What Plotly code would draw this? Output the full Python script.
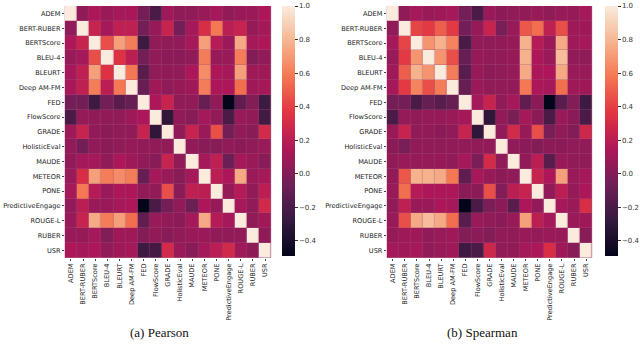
import plotly.graph_objects as go

metrics = ["ADEM", "BERT-RUBER", "BERTScore", "BLEU-4", "BLEURT", "Deep AM-FM", "FED",
           "FlowScore", "GRADE", "HolisticEval", "MAUDE", "METEOR", "PONE",
           "PredictiveEngage", "ROUGE-L", "RUBER", "USR"]

# upper-triangle rows (values for columns i+1 .. end)
pearson_upper = [
    [0.05, 0.15, 0.08, 0.12, 0.13, -0.05, -0.20, 0.10, 0.05, 0.05, 0.08, 0.12, 0.05, 0.08, 0.08, 0.15],
    [0.25, 0.12, 0.22, 0.22, -0.05, 0.07, 0.25, -0.05, 0.12, 0.32, 0.58, 0.20, 0.25, 0.07, 0.12],
    [0.45, 0.72, 0.60, -0.25, 0.05, 0.05, 0.05, 0.12, 0.72, 0.18, 0.08, 0.75, 0.12, 0.15],
    [0.35, 0.20, -0.05, 0.05, 0.03, 0.03, 0.05, 0.60, 0.08, 0.08, 0.60, 0.00, 0.05],
    [0.58, -0.15, 0.05, 0.05, 0.05, 0.15, 0.65, 0.15, 0.12, 0.72, 0.10, 0.10],
    [-0.10, 0.10, 0.05, 0.07, 0.10, 0.60, 0.15, 0.15, 0.55, 0.10, 0.12],
    [0.15, 0.25, 0.05, 0.05, -0.10, 0.05, -0.49, -0.12, 0.00, -0.25],
    [-0.30, 0.05, 0.02, 0.12, 0.05, -0.20, 0.08, 0.05, -0.23],
    [0.05, 0.25, 0.08, 0.45, -0.05, 0.05, 0.02, 0.30],
    [0.05, 0.02, 0.02, 0.05, 0.03, 0.05, 0.08],
    [0.12, 0.22, -0.08, 0.12, 0.08, 0.02],
    [0.20, 0.15, 0.75, 0.08, 0.12],
    [0.07, 0.18, 0.05, 0.20],
    [0.12, 0.05, 0.29],
    [0.05, 0.10],
    [0.04],
    [],
]

spearman_upper = [
    [0.05, 0.12, 0.08, 0.10, 0.12, -0.05, -0.20, 0.08, 0.03, 0.05, 0.05, 0.08, 0.05, 0.08, 0.07, 0.12],
    [0.42, 0.38, 0.50, 0.38, -0.05, 0.07, 0.25, -0.03, 0.08, 0.48, 0.55, 0.22, 0.45, 0.10, 0.10],
    [0.68, 0.78, 0.62, -0.20, 0.05, 0.05, 0.05, 0.07, 0.78, 0.18, 0.08, 0.75, 0.10, 0.12],
    [0.68, 0.45, -0.10, 0.07, 0.05, 0.05, 0.07, 0.78, 0.15, 0.08, 0.82, 0.05, 0.05],
    [0.60, -0.15, 0.07, 0.03, 0.05, 0.07, 0.75, 0.15, 0.15, 0.75, 0.08, 0.08],
    [-0.10, 0.08, 0.05, 0.05, 0.05, 0.58, 0.15, 0.12, 0.55, 0.10, 0.10],
    [0.12, 0.25, 0.05, 0.12, -0.12, 0.03, -0.49, -0.15, 0.00, -0.25],
    [-0.30, 0.05, -0.03, 0.12, 0.03, -0.20, 0.08, 0.03, -0.20],
    [0.05, 0.30, 0.07, 0.45, -0.03, 0.05, 0.00, 0.28],
    [0.05, 0.03, 0.00, 0.03, 0.03, 0.05, 0.05],
    [0.05, 0.20, -0.15, 0.08, 0.05, 0.05],
    [0.25, 0.15, 0.72, 0.08, 0.12],
    [0.05, 0.20, 0.07, 0.15],
    [0.12, 0.08, 0.32],
    [0.08, 0.10],
    [0.02],
    [],
]

captions = ["(a) Pearson", "(b) Spearman"]
caption_x = [160, 484]
cbar_ticks = [-0.4, -0.2, 0.0, 0.2, 0.4, 0.6, 0.8, 1.0]


def full_matrix(upper):
    n = len(metrics)
    m = [[1.0] * n for _ in range(n)]
    for i, row in enumerate(upper):
        for k, v in enumerate(row):
            j = i + 1 + k
            m[i][j] = v
            m[j][i] = v
    return m


rocket = [
    [0.0, "#03051a"],
    [1 / 7, "#35193e"],
    [2 / 7, "#701f57"],
    [3 / 7, "#ad1759"],
    [4 / 7, "#e13342"],
    [5 / 7, "#f37651"],
    [6 / 7, "#f6b48f"],
    [1.0, "#faebdd"],
]

W, H = 640, 357
ZMIN, ZMAX = -0.49, 1.0

panels = [
    dict(x0=65, x1=272, cb=283),
    dict(x0=388, x1=594, cb=607),
]
ytop, ybot = 3, 257
CB_PAD = 6
FONT = "DejaVu Sans"

fig = go.Figure()
for idx, (upper, p) in enumerate(zip([pearson_upper, spearman_upper], panels)):
    xa = "x" if idx == 0 else "x2"
    ya = "y" if idx == 0 else "y2"
    fig.add_trace(go.Heatmap(
        z=full_matrix(upper), x=metrics, y=metrics,
        xaxis=xa, yaxis=ya,
        colorscale=rocket, zmin=ZMIN, zmax=ZMAX,
        xgap=0.35, ygap=0.35,
        colorbar=dict(
            x=p["cb"] / W, xanchor="left", xref="paper", xpad=0, ypad=CB_PAD,
            y=1 - (ytop - CB_PAD) / H, yanchor="top",
            len=250 + 2 * CB_PAD, lenmode="pixels",
            thickness=13, thicknessmode="pixels", outlinewidth=0,
            tickvals=cbar_ticks,
            tickformat=".1f", ticks="outside", ticklen=3, tickcolor="#333",
            tickfont=dict(family=FONT, size=7, color="#333"),
        ),
        hoverongaps=False,
    ))
    axkey = "xaxis" if idx == 0 else "xaxis2"
    aykey = "yaxis" if idx == 0 else "yaxis2"
    fig.update_layout(**{
        axkey: dict(domain=[p["x0"] / W, p["x1"] / W], anchor=ya, automargin=False,
                    tickangle=-90, tickfont=dict(family=FONT, size=6.6, color="#222"),
                    showgrid=False, zeroline=False, ticks="outside", ticklen=2,
                    tickcolor="#444", showline=False),
        aykey: dict(domain=[1 - ybot / H, 1 - ytop / H], anchor=xa, automargin=False,
                    autorange="reversed",
                    tickfont=dict(family=FONT, size=6.6, color="#222"),
                    showgrid=False, zeroline=False, ticks="outside", ticklen=2,
                    tickcolor="#444", showline=False),
    })
    fig.add_annotation(
        text=captions[idx], xref="paper", yref="paper",
        x=caption_x[idx] / W, y=1 - 332 / H,
        showarrow=False, xanchor="center", yanchor="middle",
        font=dict(family="Liberation Serif", size=13, color="#111"),
    )

fig.update_layout(
    width=W, height=H,
    margin=dict(l=0, r=0, t=0, b=0),
    paper_bgcolor="white", plot_bgcolor="#a65078",
    showlegend=False,
)

fig.write_html("out.html", config={"displayModeBar": False},
               post_script="document.body.style.margin='0';")
